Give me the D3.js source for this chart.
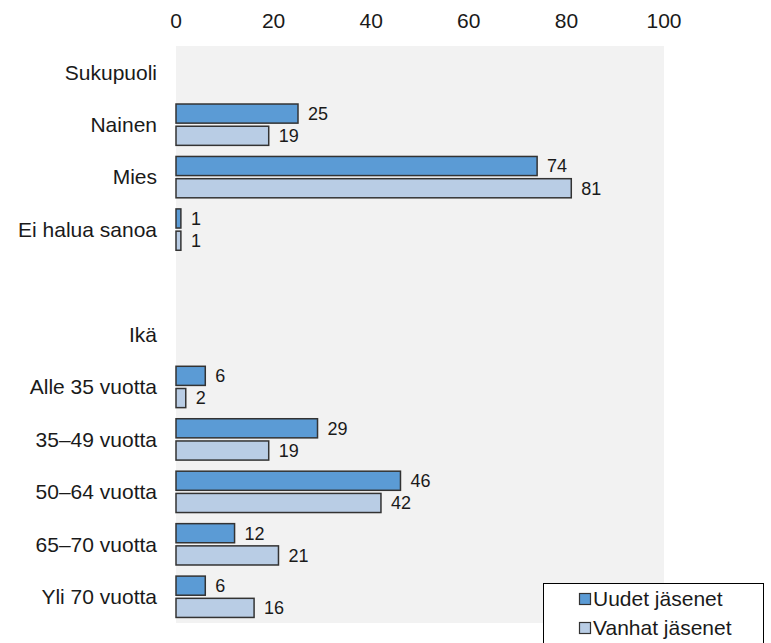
<!DOCTYPE html>
<html>
<head>
<meta charset="utf-8">
<script src="https://cdn.jsdelivr.net/npm/d3@7"></script>
<style>
  body { margin: 0; background: #fff; }
  svg text { font-family: "Liberation Sans", Arial, sans-serif; fill: #1a1a1a; }
</style>
</head>
<body>
<div id="chart"></div>
<script>
// Data (rows incl. group headers and one empty spacer row)
var rows = ["Sukupuoli", "Nainen", "Mies", "Ei halua sanoa", "", "Ikä",
            "Alle 35 vuotta", "35–49 vuotta", "50–64 vuotta", "65–70 vuotta", "Yli 70 vuotta"];
var seriesNames = ["Uudet jäsenet", "Vanhat jäsenet"];
var uudet  = [null, 25, 74, 1, null, null, 6, 29, 46, 12, 6];
var vanhat = [null, 19, 81, 1, null, null, 2, 19, 42, 21, 16];
var ticks  = [0, 20, 40, 60, 80, 100];

var colors = ["#5b9bd5", "#b9cde5"];

// Layout
var width = 771, height = 643,
    plot = { left: 176, right: 664, top: 46, bottom: 623 };

var svg = d3.select("#chart").append("svg")
    .attr("width", width)
    .attr("height", height);

var x = d3.scaleLinear().domain([0, 100]).range([plot.left, plot.right]);

var y = d3.scaleBand()
    .domain(d3.range(rows.length))
    .range([plot.top, plot.bottom])
    .padding(0);

var ySub = d3.scaleBand()
    .domain([0, 1])
    .range([0, y.bandwidth()])
    .paddingInner(0.14)
    .paddingOuter(0.25);

// plot background
svg.append("rect")
    .attr("x", plot.left)
    .attr("y", plot.top)
    .attr("width", plot.right - plot.left)
    .attr("height", plot.bottom - plot.top)
    .style("fill", "#f2f2f2");

// top axis labels
svg.append("g").selectAll("text")
    .data(ticks)
    .enter().append("text")
      .attr("x", function(d) { return x(d); })
      .attr("y", 28)
      .attr("text-anchor", "middle")
      .style("font-size", "21px")
      .text(function(d) { return d; });

// category labels
svg.append("g").selectAll("text")
    .data(rows)
    .enter().append("text")
      .attr("x", 157)
      .attr("y", function(d, i) { return y(i) + y.bandwidth() / 2; })
      .attr("dy", "0.35em")
      .attr("text-anchor", "end")
      .style("font-size", "21px")
      .text(function(d) { return d; });

// bars
var barData = [];
[uudet, vanhat].forEach(function(vals, s) {
  vals.forEach(function(v, i) {
    if (v !== null) barData.push({ row: i, s: s, value: v });
  });
});

var bars = svg.append("g").selectAll("g")
    .data(barData)
    .enter().append("g");

bars.append("rect")
    .attr("x", x(0))
    .attr("y", function(d) { return y(d.row) + ySub(d.s); })
    .attr("width", function(d) { return x(d.value) - x(0); })
    .attr("height", ySub.bandwidth())
    .style("fill", function(d) { return colors[d.s]; })
    .style("stroke", "#333")
    .style("stroke-width", 1.5);

bars.append("text")
    .attr("x", function(d) { return x(d.value) + 10; })
    .attr("y", function(d) { return y(d.row) + ySub(d.s) + ySub.bandwidth() / 2; })
    .attr("dy", "0.35em")
    .style("font-size", "18px")
    .text(function(d) { return d.value; });

// Legend
var legend = svg.append("g").attr("class", "legend");

legend.append("rect")
    .attr("x", 543.5)
    .attr("y", 583.5)
    .attr("width", 220)
    .attr("height", 70)
    .style("fill", "#fff")
    .style("stroke", "#000")
    .style("stroke-width", 1);

var item = legend.selectAll(".item")
    .data(seriesNames)
    .enter().append("g")
      .attr("class", "item")
      .attr("transform", function(d, i) { return "translate(579," + (599 + i * 29) + ")"; });

item.append("rect")
    .attr("x", 0.5)
    .attr("y", -5.5)
    .attr("width", 11)
    .attr("height", 11)
    .style("fill", function(d, i) { return colors[i]; })
    .style("stroke", "#333")
    .style("stroke-width", 1.2);

item.append("text")
    .attr("x", 14)
    .attr("dy", "0.35em")
    .style("font-size", "21px")
    .text(function(d) { return d; });
</script>
</body>
</html>
